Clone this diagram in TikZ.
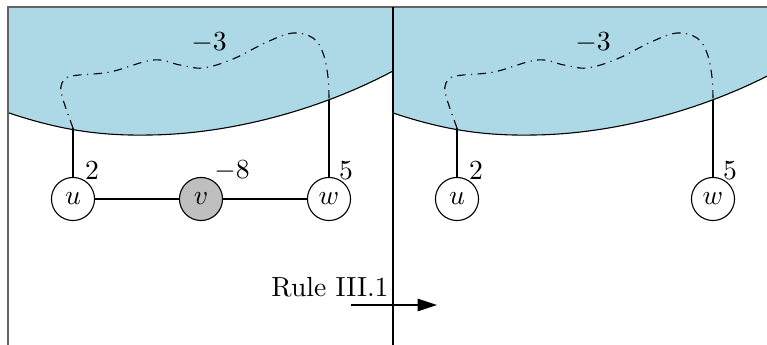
\documentclass[tikz,border=0pt]{standalone}
\usetikzlibrary{arrows.meta}
\definecolor{regionblue}{RGB}{173,216,230}
\definecolor{framegray}{RGB}{100,100,100}
\tikzset{
  vtx/.style={circle,draw=black,fill=white,minimum size=15.6pt,inner sep=0pt},
  vtxgray/.style={vtx,fill=gray!50},
  frameline/.style={draw=framegray,line width=0.5pt},
  dashline/.style={dash pattern=on 3pt off 2pt on 0.4pt off 2pt},
  lbl/.style={inner sep=0pt}
}
\begin{document}
\begin{tikzpicture}[x=0.362pt,y=-0.362pt]
\useasboundingbox (0,0) rectangle (767,345);
\foreach \sh/\withv in {0/1,384/0}{
\begin{scope}
\clip (8,7) rectangle (767,345);
\begin{scope}[shift={(\sh,0)}]
\fill[regionblue] (9,7) -- (393,7) -- (393,71) .. controls (320,110) and (230,134) .. (150,135) .. controls (100,136) and (60,130) .. (9,113) -- cycle;
\draw (393,71) .. controls (320,110) and (230,134) .. (150,135) .. controls (100,136) and (60,130) .. (9,113);
\node[vtx] (u) at (73,199) {$u$};
\node[vtx] (w) at (329,199) {$w$};
\coordinate (cu) at (73,128);
\coordinate (cw) at (329,100);
\draw (u) -- (cu);
\draw (w) -- (cw);
\draw[dashline] plot[smooth,tension=0.6] coordinates {(73,128) (62,96) (62,83) (72,76) (110,72) (153,60) (180,65) (203,68) (233,59) (267,42) (293,33) (313,38) (323,53) (328,77) (329,100)};
\node[lbl] at (209,43) {$-3$};
\node[lbl] at (92,171) {$2$};
\node[lbl] at (346,171) {$5$};
\ifnum\withv=1
\node[vtxgray] (v) at (201,199) {$v$};
\draw (u) -- (v) -- (w);
\node[lbl] at (232,171) {$-8$};
\fi
\end{scope}
\end{scope}
}
\draw[frameline] (8,345) -- (8,7) -- (767,7);
\draw (393,7) -- (393,345);
\node[anchor=base] (rule) at (330,297) {Rule III.1};
\coordinate (as) at (351,305);
\coordinate (ae) at (437,305);
\draw[-{Triangle[length=7pt,width=4.5pt]}] (as) -- (ae);
\end{tikzpicture}
\end{document}
